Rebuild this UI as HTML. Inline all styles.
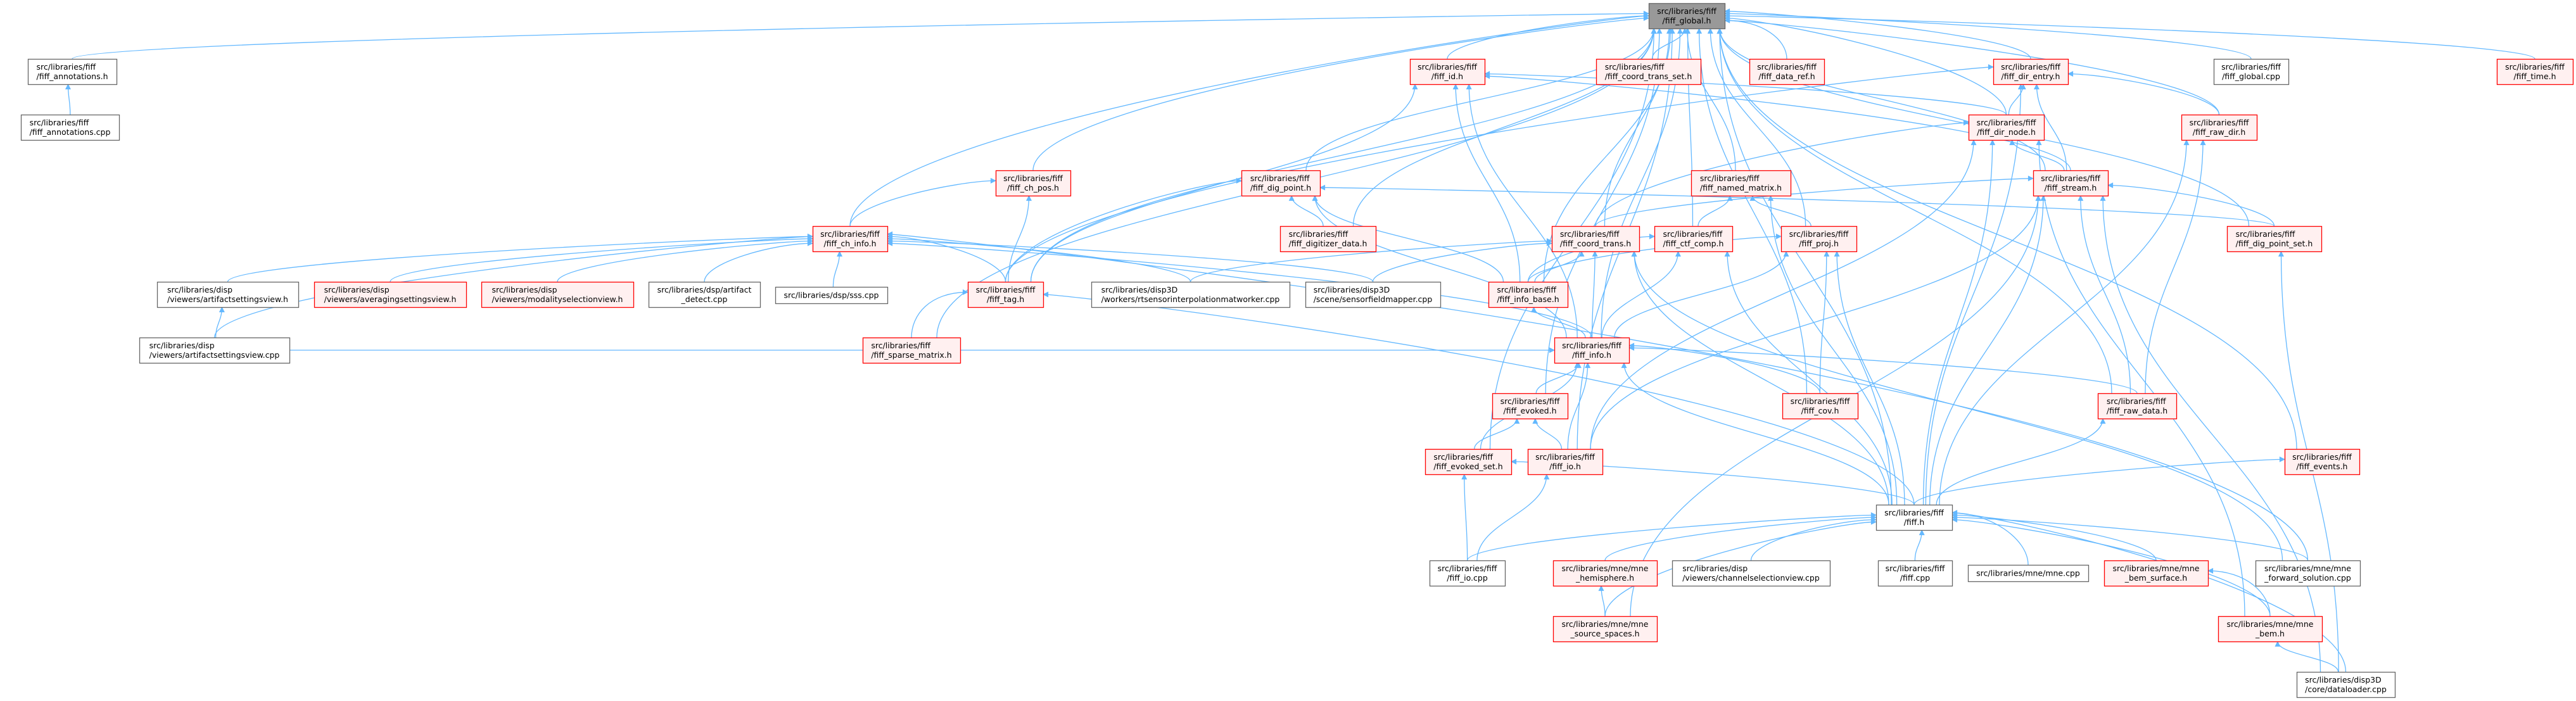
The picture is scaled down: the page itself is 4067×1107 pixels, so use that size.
<!DOCTYPE html>
<html><head><meta charset="utf-8">
<style>
html,body{margin:0;padding:0;background:#fff;}
svg{display:block;}
text{font-family:"DejaVu Sans","Liberation Sans",sans-serif;font-size:12.5px;fill:#000;}
</style></head>
<body>
<svg id="g" xmlns="http://www.w3.org/2000/svg" width="4067" height="1107" viewBox="0 0 4067 1107">
<defs>
<marker id="ah" viewBox="0 0 10 10" refX="9" refY="5" markerWidth="10" markerHeight="9" markerUnits="userSpaceOnUse" orient="auto">
<path d="M0,0 L10,5 L0,10 z" fill="#63b8ff"/>
</marker>
</defs>
<g id="edges"></g>
<g id="nodes"></g>
</svg>
<script>
var N={
global:[2603,5,2723,45,'g',"src/libraries/fiff","/fiff_global.h"],
annot_h:[44,93,184,133,'w',"src/libraries/fiff","/fiff_annotations.h"],
annot_cpp:[33,181,188,221,'w',"src/libraries/fiff","/fiff_annotations.cpp"],
id:[2226,93,2344,133,'r',"src/libraries/fiff","/fiff_id.h"],
cts:[2520,93,2685,133,'r',"src/libraries/fiff","/fiff_coord_trans_set.h"],
dref:[2762,93,2880,133,'r',"src/libraries/fiff","/fiff_data_ref.h"],
dentry:[3147,93,3265,133,'r',"src/libraries/fiff","/fiff_dir_entry.h"],
gcpp:[3495,93,3613,133,'w',"src/libraries/fiff","/fiff_global.cpp"],
time:[3942,93,4062,133,'r',"src/libraries/fiff","/fiff_time.h"],
dnode:[3108,181,3227,221,'r',"src/libraries/fiff","/fiff_dir_node.h"],
rawdir:[3444,181,3563,221,'r',"src/libraries/fiff","/fiff_raw_dir.h"],
chpos:[1572,269,1690,309,'r',"src/libraries/fiff","/fiff_ch_pos.h"],
digpt:[1960,269,2084,309,'r',"src/libraries/fiff","/fiff_dig_point.h"],
named:[2670,269,2827,309,'r',"src/libraries/fiff","/fiff_named_matrix.h"],
stream:[3210,269,3328,309,'r',"src/libraries/fiff","/fiff_stream.h"],
chinfo:[1283,357,1401,397,'r',"src/libraries/fiff","/fiff_ch_info.h"],
digdata:[2021,357,2172,397,'r',"src/libraries/fiff","/fiff_digitizer_data.h"],
ctrans:[2450,357,2588,397,'r',"src/libraries/fiff","/fiff_coord_trans.h"],
ctf:[2612,357,2735,397,'r',"src/libraries/fiff","/fiff_ctf_comp.h"],
proj:[2812,357,2931,397,'r',"src/libraries/fiff","/fiff_proj.h"],
dps:[3516,357,3665,397,'r',"src/libraries/fiff","/fiff_dig_point_set.h"],
asv_h:[248,445,471,485,'w',"src/libraries/disp","/viewers/artifactsettingsview.h"],
avg:[496,445,736,485,'r',"src/libraries/disp","/viewers/averagingsettingsview.h"],
mod:[760,445,1000,485,'r',"src/libraries/disp","/viewers/modalityselectionview.h"],
adet:[1024,445,1200,485,'w',"src/libraries/dsp/artifact","_detect.cpp"],
sss:[1224,453,1401,479,'w',"src/libraries/dsp/sss.cpp"],
tag:[1528,445,1647,485,'r',"src/libraries/fiff","/fiff_tag.h"],
rts:[1723,445,2036,485,'w',"src/libraries/disp3D","/workers/rtsensorinterpolationmatworker.cpp"],
sfm:[2061,445,2274,485,'w',"src/libraries/disp3D","/scene/sensorfieldmapper.cpp"],
ibase:[2350,445,2475,485,'r',"src/libraries/fiff","/fiff_info_base.h"],
asv_cpp:[220,533,457,573,'w',"src/libraries/disp","/viewers/artifactsettingsview.cpp"],
sparse:[1362,533,1516,573,'r',"src/libraries/fiff","/fiff_sparse_matrix.h"],
info:[2454,533,2572,573,'r',"src/libraries/fiff","/fiff_info.h"],
evoked:[2356,621,2475,661,'r',"src/libraries/fiff","/fiff_evoked.h"],
cov:[2814,621,2933,661,'r',"src/libraries/fiff","/fiff_cov.h"],
rawdata:[3312,621,3436,661,'r',"src/libraries/fiff","/fiff_raw_data.h"],
eset:[2250,709,2386,749,'r',"src/libraries/fiff","/fiff_evoked_set.h"],
ioh:[2412,709,2530,749,'r',"src/libraries/fiff","/fiff_io.h"],
events:[3607,709,3725,749,'r',"src/libraries/fiff","/fiff_events.h"],
fiffh:[2962,797,3082,837,'w',"src/libraries/fiff","/fiff.h"],
iocpp:[2257,885,2376,925,'w',"src/libraries/fiff","/fiff_io.cpp"],
hemi:[2452,885,2616,925,'r',"src/libraries/mne/mne","_hemisphere.h"],
csv:[2640,885,2889,925,'w',"src/libraries/disp","/viewers/channelselectionview.cpp"],
fcpp:[2965,885,3082,925,'w',"src/libraries/fiff","/fiff.cpp"],
mnecpp:[3107,892,3297,918,'w',"src/libraries/mne/mne.cpp"],
bsurf:[3322,885,3486,925,'r',"src/libraries/mne/mne","_bem_surface.h"],
fwd:[3561,885,3726,925,'w',"src/libraries/mne/mne","_forward_solution.cpp"],
ss:[2452,973,2616,1013,'r',"src/libraries/mne/mne","_source_spaces.h"],
bem:[3502,973,3666,1013,'r',"src/libraries/mne/mne","_bem.h"],
dl:[3626,1061,3781,1101,'w',"src/libraries/disp3D","/core/dataloader.cpp"]
};
var E=[];
function add(p,cs){cs.split(' ').forEach(function(c){E.push([c,p]);});}
add('global','annot_h chinfo chpos digpt digdata tag id cts dref named ctrans ctf proj ibase dentry gcpp time dnode rawdir stream dps rawdata events fiffh cov evoked eset ioh info sparse');
add('annot_h','annot_cpp');
add('asv_h','asv_cpp');
add('chinfo','asv_h avg mod adet sss tag rts sfm info fwd asv_cpp');
add('chpos','chinfo tag');
add('digpt','tag ibase digdata dps info');
add('tag','sparse fiffh');
add('id','ibase info dnode stream tag');
add('ctrans','ibase info rts sfm fiffh fwd');
add('named','ctf proj fiffh');
add('ctf','ibase info fiffh');
add('proj','ibase info fiffh cov');
add('ibase','info');
add('info','evoked ioh eset fiffh cov rawdata asv_cpp');
add('evoked','eset ioh');
add('eset','iocpp fiffh');
add('ioh','iocpp');
add('stream','fiffh rawdata dps ioh ctrans ss dl');
add('dentry','dnode stream rawdir fiffh tag');
add('dnode','stream fiffh ioh bem ctrans');
add('rawdir','rawdata fiffh');
add('rawdata','fiffh');
add('events','fiffh');
add('fiffh','iocpp hemi csv fcpp mnecpp bsurf fwd bem ss dl');
add('hemi','ss');
add('bsurf','bem');
add('bem','dl');
add('dps','dl');
var NS='http://www.w3.org/2000/svg';
var eg=document.getElementById('edges'),ng=document.getElementById('nodes');
var cnt={};
E.forEach(function(e){
 var c=N[e[0]],p=N[e[1]];
 var k=e[1];cnt[k]=(cnt[k]||0)+1;
 var ccx=(c[0]+c[2])/2,pcx=(p[0]+p[2])/2;
 var sx,sy,ex,ey,d;
 var dy=c[1]-p[3];
 var off=((cnt[k]%5)-2)*6;
 if(dy>20 && Math.abs(ccx-pcx)<dy*3){
  sx=ccx+Math.max(-40,Math.min(40,(pcx-ccx)*0.1));sy=c[1];
  ex=pcx+Math.max(-(p[2]-p[0])/2+8,Math.min((p[2]-p[0])/2-8,(ccx-pcx)*0.15+off));ey=p[3];
  var m=(sy-ey)*0.45;
  d='M'+sx+','+sy+' C'+sx+','+(sy-m)+' '+ex+','+(ey+m)+' '+ex+','+ey;
 } else {
  // side entry
  var right=ccx>pcx;
  ex=right?p[2]:p[0];ey=(p[1]+p[3])/2+off*0.6;
  if(c[1]>p[3]){sx=ccx;sy=c[1];}else{sx=right?c[0]:c[2];sy=(c[1]+c[3])/2;}
  var mx=(sx+ex)/2;
  d='M'+sx+','+sy+' C'+sx+','+(sy-(sy-ey)*0.5)+' '+(ex+(right?60:-60))+','+ey+' '+ex+','+ey;
 }
 var pa=document.createElementNS(NS,'path');
 pa.setAttribute('d',d);pa.setAttribute('fill','none');pa.setAttribute('stroke','#63b8ff');
 pa.setAttribute('stroke-width','1.3');pa.setAttribute('marker-end','url(#ah)');
 eg.appendChild(pa);
});
for(var k in N){
 var n=N[k],w=n[2]-n[0],h=n[3]-n[1];
 var r=document.createElementNS(NS,'rect');
 r.setAttribute('x',n[0]+0.5);r.setAttribute('y',n[1]+0.5);r.setAttribute('width',w);r.setAttribute('height',h);
 var fill=n[4]=='r'?'#fff0f0':(n[4]=='g'?'#999999':'#ffffff');
 var st=n[4]=='r'?'#ff0000':'#666666';
 r.setAttribute('fill',fill);r.setAttribute('stroke',st);r.setAttribute('stroke-width','1.3');
 ng.appendChild(r);
 var cx=(n[0]+n[2])/2;
 if(n.length==6){
  var t=document.createElementNS(NS,'text');t.textContent=n[5];
  t.setAttribute('x',cx);t.setAttribute('y',n[1]+h/2+4.5);t.setAttribute('text-anchor','middle');
  ng.appendChild(t);
  if(t.getComputedTextLength()>w-14){t.setAttribute('textLength',w-14);t.setAttribute('lengthAdjust','spacingAndGlyphs');}
 } else {
  var t1=document.createElementNS(NS,'text'),t2=document.createElementNS(NS,'text');
  t1.textContent=n[5];t2.textContent=n[6];
  t2.setAttribute('x',cx);t2.setAttribute('text-anchor','middle');t2.setAttribute('y',n[1]+32);
  t1.setAttribute('y',n[1]+17);
  ng.appendChild(t1);ng.appendChild(t2);
  var l1=t1.getComputedTextLength(),l2=t2.getComputedTextLength(),mw=w-16;
  if(l2>mw){t2.setAttribute('textLength',mw);t2.setAttribute('lengthAdjust','spacingAndGlyphs');l2=mw;}
  if(l1>mw){t1.setAttribute('textLength',mw);t1.setAttribute('lengthAdjust','spacingAndGlyphs');l1=mw;}
  var L=Math.max(l1,l2);
  t1.setAttribute('x',cx-L/2);
 }
}
</script>
</body></html>
